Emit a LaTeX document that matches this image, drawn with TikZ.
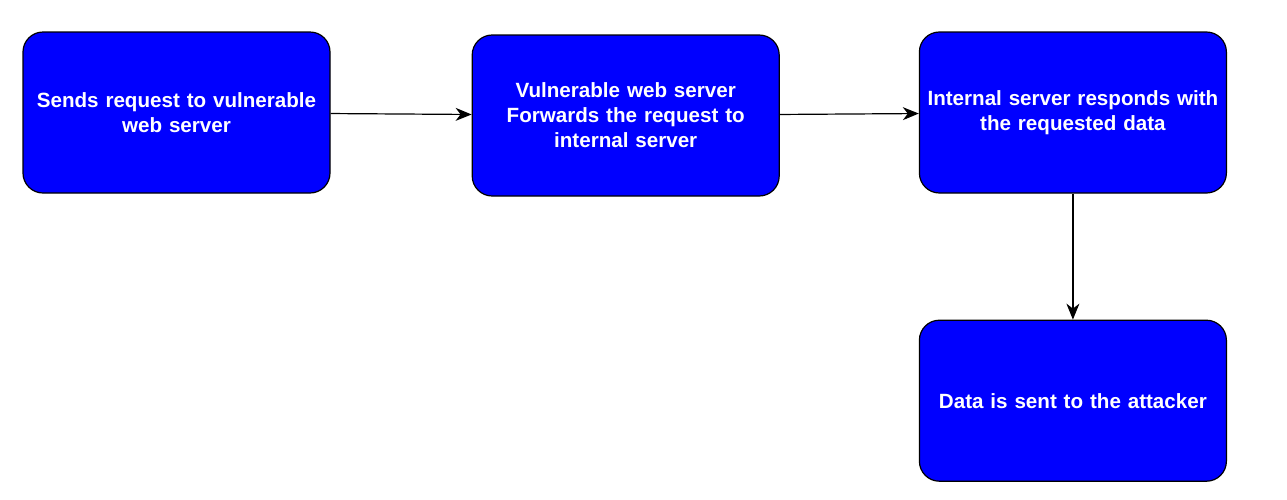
\documentclass[tikz,border=0pt]{standalone}
\usepackage{fontspec}
\setmainfont{Liberation Sans}
\usetikzlibrary{arrows.meta, positioning}

\tikzset{
	stepbox/.style={draw=black, line width=1.2pt, fill=blue, rounded corners=20pt,
		minimum width=307pt, minimum height=161pt, text width=300pt, align=center,
		text=white, font=\bfseries\fontsize{20.6}{25}\selectfont},
	flow/.style={-{Stealth[length=16pt, width=13pt, inset=5pt]}, line width=1.2pt}
}

\begin{document}
\begin{tikzpicture}[x=1pt, y=-1pt]
	\useasboundingbox (0,0) rectangle (1287,499);
	\node[stepbox] (sends) at (176.5,112.5) {Sends request to vulnerable\\web server};
	\node[stepbox, right=141pt of sends, yshift=-3pt] (forward) {Vulnerable web server\\Forwards the request to\\internal server};
	\node[stepbox, right=139pt of forward, yshift=3pt] (responds) {Internal server responds with\\the requested data};
	\node[stepbox, below=126pt of responds] (attacker) {Data is sent to the attacker};

	% request path
	\draw[flow] (sends) -- (forward);
	\draw[flow] (forward) -- (responds);
	\draw[flow] (responds) -- (attacker);
\end{tikzpicture}
\end{document}
